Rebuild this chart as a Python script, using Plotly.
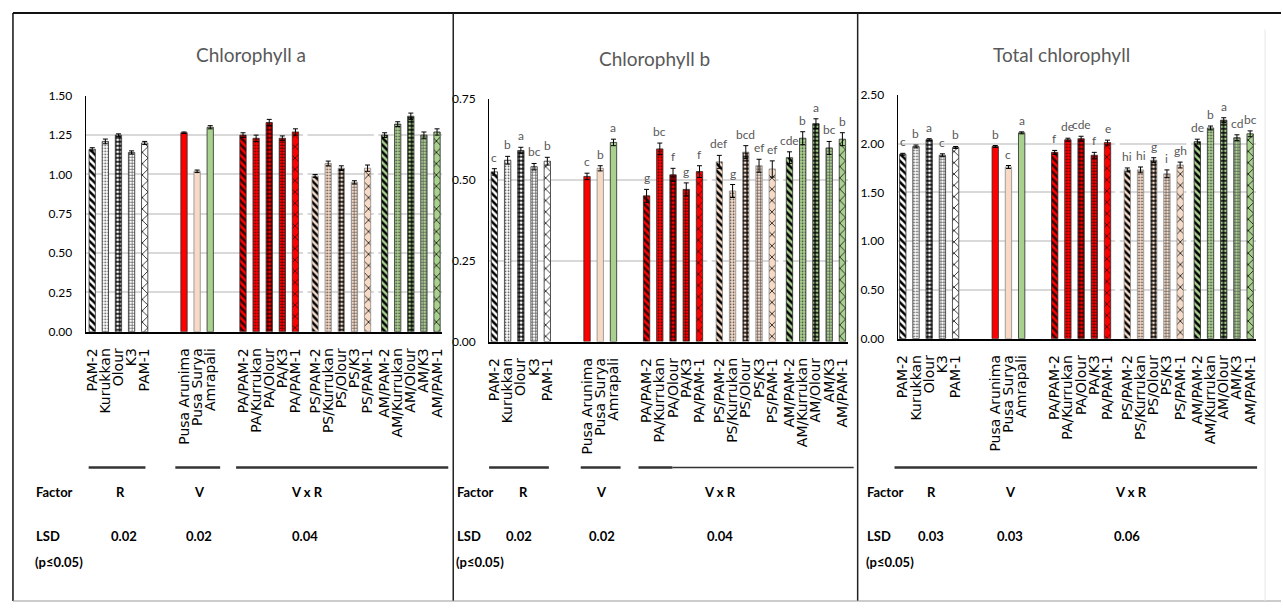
import plotly.graph_objects as go

W, H = 1283, 609

# ---------------- data ----------------
rootstocks = ["PAM-2", "Kurukkan", "Olour", "K3", "PAM-1"]
varieties = ["Pusa Arunima", "Pusa Surya", "Amrapali"]
combos = ["PA/PAM-2", "PA/Kurrukan", "PA/Olour", "PA/K3", "PA/PAM-1",
          "PS/PAM-2", "PS/Kurrukan", "PS/Olour", "PS/K3", "PS/PAM-1",
          "AM/PAM-2", "AM/Kurrukan", "AM/Olour", "AM/K3", "AM/PAM-1"]

chl_a_R = [1.16, 1.21, 1.25, 1.14, 1.20]
chl_a_V = [1.265, 1.02, 1.30]
chl_a_VR = [1.25, 1.23, 1.33, 1.23, 1.27,
            0.99, 1.07, 1.04, 0.95, 1.04,
            1.25, 1.32, 1.37, 1.25, 1.27]
chl_a_err_R = [0.010, 0.015, 0.008, 0.010, 0.010]
chl_a_err_V = [0.005, 0.008, 0.010]
chl_a_err_VR = [0.015, 0.020, 0.020, 0.015, 0.020,
                0.010, 0.015, 0.015, 0.010, 0.020,
                0.015, 0.015, 0.020, 0.020, 0.020]

chl_b_R = [0.524, 0.560, 0.590, 0.540, 0.557]
chl_b_V = [0.510, 0.535, 0.615]
chl_b_VR = [0.450, 0.595, 0.515, 0.470, 0.525,
            0.555, 0.465, 0.585, 0.543, 0.533,
            0.568, 0.628, 0.673, 0.598, 0.625]
chl_b_err_R = [0.010, 0.012, 0.010, 0.010, 0.012]
chl_b_err_V = [0.010, 0.008, 0.010]
chl_b_err_VR = [0.020, 0.018, 0.020, 0.020, 0.018,
                0.020, 0.020, 0.020, 0.020, 0.025,
                0.018, 0.020, 0.015, 0.020, 0.020]
chl_b_let_R = ["c", "b", "a", "bc", "b"]
chl_b_let_V = ["c", "b", "a"]
chl_b_let_VR = ["g", "bc", "f", "g", "f",
                "def", "g", "bcd", "ef", "ef",
                "cde", "b", "a", "bc", "b"]

tot_R = [1.89, 1.97, 2.04, 1.88, 1.96]
tot_V = [1.97, 1.76, 2.11]
tot_VR = [1.91, 2.04, 2.05, 1.88, 2.01,
          1.73, 1.73, 1.83, 1.69, 1.78,
          2.02, 2.16, 2.24, 2.06, 2.10]
tot_err_R = [0.010, 0.015, 0.010, 0.015, 0.010]
tot_err_V = [0.010, 0.015, 0.010]
tot_err_VR = [0.020, 0.015, 0.025, 0.030, 0.025,
              0.020, 0.030, 0.025, 0.040, 0.030,
              0.025, 0.020, 0.025, 0.030, 0.030]
tot_let_R = ["c", "b", "a", "c", "b"]
tot_let_V = ["b", "c", "a"]
tot_let_VR = ["f", "de", "cde", "f", "e",
              "hi", "hi", "g", "i", "gh",
              "de", "b", "a", "cd", "bc"]

titles = ["Chlorophyll a", "Chlorophyll b", "Total chlorophyll"]
lsd_R = ["0.02", "0.02", "0.03"]
lsd_V = ["0.02", "0.02", "0.03"]
lsd_VR = ["0.04", "0.04", "0.06"]

# ---------------- styling ----------------
NARROW = "Lato, Liberation Sans, sans-serif"
WIDE = "DejaVu Sans, Verdana, sans-serif"
RED, BEIGE, GREEN, WHITE = "#ff0000", "#f7dac6", "#a9d18e", "#ffffff"

# hatch per rootstock: (shape, size, solidity, fg)
hatch = [("\\", 5, 0.50, "#000000"),
         (".", 3, 0.25, "#303030"),
         ("+", 4, 0.55, "#000000"),
         ("+", 3, 0.40, "#585858"),
         ("x", 8, 0.18, "#000000")]
# the red combinations carry a maroon hatch
PA_FG = "#3a0000"

# x positions: unit step inside a group, wider gaps between groups
group_sizes = [5, 3, 5, 5, 5]
group_gaps = [3.0, 2.5, 1.5, 1.3]
xpos = []
group_start = []
cur = 0.0
for g, n in enumerate(group_sizes):
    if g > 0:
        cur += group_gaps[g - 1] - 1
    group_start.append(len(xpos))
    for i in range(n):
        xpos.append(cur)
        cur += 1
labels = rootstocks + varieties + combos

# per-bar fill: background colour + hatch
styles = []
group_bg = [None, None, RED, BEIGE, GREEN]
for g, n in enumerate(group_sizes):
    for i in range(n):
        if g == 0:
            s, sz, so, fg = hatch[i]
            styles.append(dict(bg=WHITE, shape=s, size=sz, sol=so, fg=fg))
        elif g == 1:
            styles.append(dict(bg=[RED, BEIGE, GREEN][i], shape="", size=6, sol=0.3, fg="#000000"))
        else:
            s, sz, so, fg = hatch[i]
            styles.append(dict(bg=group_bg[g], shape=s, size=sz, sol=so,
                               fg=PA_FG if g == 2 else fg))

panels = [
    dict(vals=chl_a_R + chl_a_V + chl_a_VR, errs=chl_a_err_R + chl_a_err_V + chl_a_err_VR,
         lets=None, dom=(83, 441), rng=(-0.5, 26.7), ydom=(90, 332), yr=(0, 1.5), dt=0.25),
    dict(vals=chl_b_R + chl_b_V + chl_b_VR, errs=chl_b_err_R + chl_b_err_V + chl_b_err_VR,
         lets=chl_b_let_R + chl_b_let_V + chl_b_let_VR, dom=(488, 848), rng=(-0.4, 26.7),
         ydom=(93, 342), yr=(0, 0.75), dt=0.25),
    dict(vals=tot_R + tot_V + tot_VR, errs=tot_err_R + tot_err_V + tot_err_VR,
         lets=tot_let_R + tot_let_V + tot_let_VR, dom=(898, 1258), rng=(-0.4, 26.75),
         ydom=(89, 339), yr=(0, 2.5), dt=0.5),
]

def px(x):
    return x / W

def py(y):
    return 1 - y / H

fig = go.Figure()
layout = {}
annotations = []
shapes_l = []

for k, p in enumerate(panels):
    sx = "" if k == 0 else str(k + 1)
    xa, ya = "x" + sx, "y" + sx
    for xv, v, e, lab, st in zip(xpos, p["vals"], p["errs"], labels, styles):
        fig.add_trace(go.Bar(
            x=[xv], y=[v], width=0.48, xaxis=xa, yaxis=ya, showlegend=False, name=lab,
            marker=dict(color=st["bg"],
                        line=dict(color="#8a8a8a" if st["bg"] == BEIGE else "#2a2a2a", width=0.8),
                        pattern=dict(shape=st["shape"], size=st["size"], solidity=st["sol"],
                                     fgcolor=st["fg"], fgopacity=1, fillmode="overlay")),
            error_y=dict(type="data", array=[e], color="#000000", thickness=1, width=2.5),
        ))
    layout["xaxis" + sx] = dict(
        domain=[px(p["dom"][0]), px(p["dom"][1])], range=list(p["rng"]), anchor=ya,
        tickmode="array", tickvals=xpos, ticktext=labels, tickangle=-90,
        tickfont=dict(family=WIDE, size=14, color="#000000"), ticks="",
        ticklabelstandoff=9, showgrid=False, zeroline=False,
        showline=True, linecolor="#000000", linewidth=1.6, fixedrange=True)
    layout["yaxis" + sx] = dict(
        domain=[py(p["ydom"][1]), py(p["ydom"][0])], range=list(p["yr"]), anchor=xa,
        dtick=p["dt"], tickformat=".2f", showgrid=True, gridcolor="#d9d9d9", gridwidth=1.5,
        zeroline=False, showline=True, linecolor="#000000", linewidth=1, ticks="",
        ticklabelstandoff=10, tickfont=dict(family=NARROW, size=12, color="#000000"),
        fixedrange=True)
    # breaks in the gridlines between the combination groups
    for g in (3, 4):
        mid = (xpos[group_start[g] - 1] + xpos[group_start[g]]) / 2
        shapes_l.append(dict(type="rect", xref=xa, yref=ya, x0=mid - 0.17, x1=mid + 0.17,
                             y0=p["yr"][1] * 0.01, y1=p["yr"][1] * 1.01, layer="between",
                             fillcolor="#ffffff", line=dict(width=0)))
    # significance letters
    if p["lets"]:
        for xv, v, e, t in zip(xpos, p["vals"], p["errs"], p["lets"]):
            annotations.append(dict(x=xv, y=v + e, xref=xa, yref=ya, text=t, showarrow=False,
                                    yanchor="bottom", yshift=2,
                                    font=dict(family=NARROW, size=12, color="#595959")))

# chart titles
for t, (cx, cy) in zip(titles, [(249, 48), (654, 52), (1063, 48)]):
    annotations.append(dict(x=px(cx), y=py(cy), xref="paper", yref="paper", text=t,
                            showarrow=False, xanchor="center", yanchor="middle",
                            font=dict(family=NARROW, size=19, color="#595959")))

# LSD table under each chart
BOLD = dict(family=NARROW, size=13, color="#000000", weight="bold")
table = [
    dict(left=31, R=118, V=197, VR=305, lR=121, lV=197, lVR=303,
         lines=[(86, 143, 2.5), (173, 218, 2.5), (234, 447, 2.5)]),
    dict(left=454, R=523, V=601, VR=720, lR=518, lV=601, lVR=720,
         lines=[(488, 548, 2.5), (580, 620, 2.5), (638, 672, 2.5), (672, 854, 1.5)]),
    dict(left=865, R=932, V=1011, VR=1132, lR=932, lV=1011, lVR=1128,
         lines=[(895, 1259, 2.5)]),
]
ROW_F, ROW_L, ROW_P, LINE_Y = 496, 541, 568, 471


def txt(x, y, s, anchor="center"):
    annotations.append(dict(x=px(x), y=py(y), xref="paper", yref="paper", text=s,
                            showarrow=False, xanchor=anchor, yanchor="middle", font=BOLD))


for k, t in enumerate(table):
    txt(t["left"], ROW_F, "Factor", "left")
    txt(t["R"], ROW_F, "R")
    txt(t["V"], ROW_F, "V")
    txt(t["VR"], ROW_F, "V x R")
    txt(t["left"], ROW_L, "LSD", "left")
    txt(t["lR"], ROW_L, lsd_R[k])
    txt(t["lV"], ROW_L, lsd_V[k])
    txt(t["lVR"], ROW_L, lsd_VR[k])
    txt(t["left"] - 1, ROW_P, "(p≤0.05)", "left")
    for x0, x1, w in t["lines"]:
        shapes_l.append(dict(type="line", xref="paper", yref="paper", x0=px(x0), x1=px(x1),
                             y0=py(LINE_Y), y1=py(LINE_Y), line=dict(color="#333333", width=w)))

# frame around the three charts
frame = [
    (10, 5, 1283, 5, "#111111", 2),
    (10, 5, 10, 608, "#111111", 1.5),
    (452, 5, 452, 608, "#222222", 1.5),
    (858, 5, 858, 608, "#222222", 1.5),
    (10, 608, 1283, 608, "#9a9a9a", 1.2),
    (1267, 22, 1267, 608, "#e6e6e6", 1),
]
for x0, y0, x1, y1, c, w in frame:
    shapes_l.append(dict(type="line", xref="paper", yref="paper", x0=px(x0), y0=py(y0),
                         x1=px(x1), y1=py(y1), line=dict(color=c, width=w)))

fig.update_layout(
    width=W, height=H, margin=dict(l=0, r=0, t=0, b=0),
    paper_bgcolor="#ffffff", plot_bgcolor="rgba(0,0,0,0)",
    barmode="overlay", annotations=annotations, shapes=shapes_l, **layout)

fig.write_html("out.html")
